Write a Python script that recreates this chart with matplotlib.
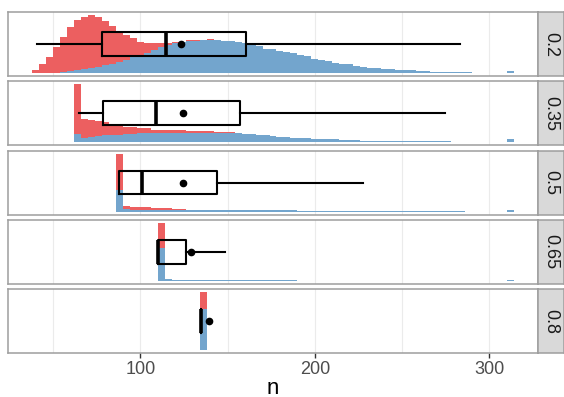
import numpy as np
import matplotlib.pyplot as plt

plt.rcParams['font.family'] = ['Liberation Sans', 'DejaVu Sans']

# histogram bins: left edge of bin 0 and bin width (n units)
bin_start = 38
bin_width = 4

facet_labels = ['0.2', '0.35', '0.5', '0.65', '0.8']
first_bin = [0, 6, 12, 18, 24]

# counts per bin, blue layer at the bottom, red stacked on top
blue_02 = [0, 0, 0, 0,
           20, 30, 50, 65, 90, 100, 135, 160, 190, 230, 270, 310, 350,
           390, 440, 490, 520, 530, 550, 550, 570, 570, 570,
           555, 550, 530, 510, 480, 460, 420, 410, 380, 360, 340, 310,
           290, 250, 230, 200, 180, 160, 150, 130, 105, 95, 83, 70,
           65, 60, 50, 45, 30, 30, 25, 15, 15, 15, 15, 15,
           0, 0, 0, 0, 0, 30]
red_02 = [50, 150, 270, 440, 600, 760, 860, 905, 910, 870, 765, 650, 540,
          420, 330, 230, 170, 130, 80, 30, 10, 10, 15, 20, 5, 10]

blue_035 = [150, 70, 90, 105, 120, 130, 130, 150, 150, 160, 160, 160,
            165, 165, 165, 165, 165, 165, 165, 165, 165, 165, 165, 165,
            150, 140, 130, 120, 110, 100, 100, 80, 80, 80, 60, 60,
            60, 60, 45, 45, 45, 30, 30, 30, 30, 30, 20, 20,
            20, 20, 20, 20, 20, 20, 0, 0, 0, 0, 0, 0,
            0, 0, 50]
red_035 = [850, 340, 300, 265, 230, 190, 160, 120, 110, 85, 85, 60,
           55, 40, 40, 40, 25, 25, 25, 25, 10, 10, 10, 5]

blue_05 = [380, 47, 35, 35, 35, 30, 30, 30, 30, 30, 30, 30,
           30, 30, 30, 30, 22, 22, 22, 22, 22, 22, 22, 22,
           22, 22, 14, 14, 14, 14, 14, 14, 14, 10, 10, 10,
           10, 10, 10, 10, 10, 10, 10, 10, 10, 10, 10, 10,
           10, 10, 0, 0, 0, 0, 0, 0, 30]
red_05 = [620, 58, 53, 40, 40, 35, 35, 35, 20, 20, 5]

blue_065 = [570, 30, 20, 20, 20, 12, 12, 12, 12, 12, 12, 12,
            12, 12, 12, 12, 12, 12, 12, 12,
            0, 0, 0, 0, 0, 0, 0, 0, 0, 0, 0, 0, 0, 0, 0,
            0, 0, 0, 0, 0, 0, 0, 0, 0, 0, 0, 0, 0, 0, 0,
            12]
red_065 = [430, 10]

blue_08 = [710]
red_08 = [290]

blue_counts = [blue_02, blue_035, blue_05, blue_065, blue_08]
red_counts = [red_02, red_035, red_05, red_065, red_08]

# boxplot summaries of n per facet
whisker_low = [40.8, 64.8, 87.6, 110.2, 134.9]
q1 = [77.9, 78.7, 87.6, 110.2, 134.9]
median = [114.7, 109.1, 101.0, 110.2, 134.9]
q3 = [160.3, 157.2, 144.1, 126.3, 134.9]
whisker_high = [283.1, 274.4, 227.8, 148.3, 134.9]
mean_n = [123.2, 124.7, 124.4, 128.9, 139.2]

red_col = '#EC5F60'
blue_col = '#73A5CD'
border_col = '#9E9E9E'

W, H = 564, 397
fig = plt.figure(figsize=(W / 100, H / 100), dpi=100)

left_px, right_px, strip_w = 8, 538, 26
top_px, panel_h, gap = 12, 64, 5.3

# x range: all bins plus 5% padding
x_lo = bin_start
x_hi = bin_start + bin_width * (first_bin[0] + len(blue_02))
pad = 0.05 * (x_hi - x_lo)

for i, lab in enumerate(facet_labels):
    y_top = top_px + i * (panel_h + gap)
    ax = fig.add_axes([left_px / W, 1 - (y_top + panel_h) / H,
                       (right_px - left_px) / W, panel_h / H])

    blue = np.array(blue_counts[i], dtype=float)
    red = np.zeros_like(blue)
    red[:len(red_counts[i])] = red_counts[i]
    edges = bin_start + bin_width * np.arange(first_bin[i], first_bin[i] + len(blue) + 1)

    ax.stairs(blue, edges, baseline=0, fill=True, color=blue_col, lw=0, zorder=2)
    ax.stairs(blue + red, edges, baseline=blue, fill=True, color=red_col, lw=0, zorder=2)

    top = (blue + red).max()
    ax.set_ylim(-0.05 * top, 1.05 * top)
    ax.set_xlim(x_lo - pad, x_hi + pad)

    stats = dict(whislo=whisker_low[i], q1=q1[i], med=median[i], q3=q3[i],
                 whishi=whisker_high[i], mean=mean_n[i])
    ax.bxp([stats], positions=[0.5 * top], widths=0.37 * 1.1 * top,
           orientation='horizontal', showmeans=True, showfliers=False,
           showcaps=False, manage_ticks=False,
           boxprops=dict(color='black', lw=1.5),
           whiskerprops=dict(color='black', lw=1.5),
           medianprops=dict(color='black', lw=2.6),
           meanprops=dict(marker='o', markerfacecolor='black',
                          markeredgecolor='black', markersize=4.5),
           zorder=4)

    ax.set_xticks([100, 200, 300])
    ax.set_xticks([50, 150, 250], minor=True)
    ax.grid(True, axis='x', which='both', color='#EBEBEB', lw=0.8, zorder=0)
    ax.set_axisbelow(True)
    ax.set_yticks([])
    for s in ax.spines.values():
        s.set_color(border_col)
        s.set_linewidth(1.1)
    ax.tick_params(axis='x', which='minor', length=0)
    if i < len(facet_labels) - 1:
        ax.tick_params(axis='x', which='major', length=0, labelbottom=False)
    else:
        ax.tick_params(axis='x', which='major', length=3.5, width=1,
                       color='#333333', labelsize=13, labelcolor='#4D4D4D', pad=2)

    sax = fig.add_axes([right_px / W, 1 - (y_top + panel_h) / H,
                        strip_w / W, panel_h / H])
    sax.set_facecolor('#D9D9D9')
    sax.set_xticks([])
    sax.set_yticks([])
    for s in sax.spines.values():
        s.set_color(border_col)
        s.set_linewidth(1.1)
    sax.text(0.5, 0.5, lab, rotation=270, ha='center', va='center',
             fontsize=13, color='#1A1A1A', transform=sax.transAxes)

fig.text((left_px + right_px) / 2 / W, 1 - 388 / H, 'n', ha='center', va='center',
         fontsize=16, color='black')

fig.savefig('out.png', dpi=100)
